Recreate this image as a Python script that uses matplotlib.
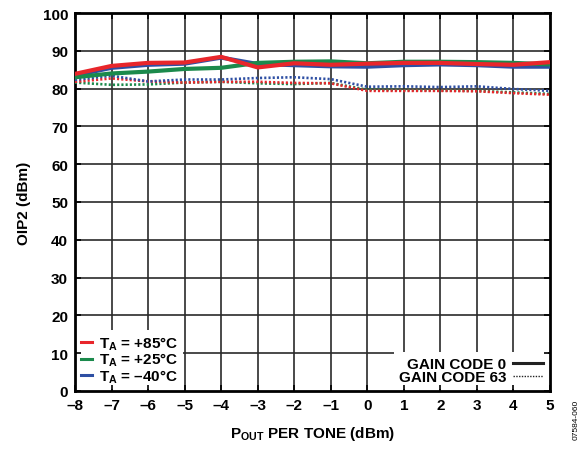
import matplotlib
matplotlib.use("Agg")
import matplotlib.pyplot as plt
from matplotlib.lines import Line2D

plt.rcParams['font.family'] = ['Liberation Sans', 'DejaVu Sans']
plt.rcParams['font.weight'] = 'bold'
plt.rcParams['axes.labelweight'] = 'bold'
plt.rcParams['mathtext.fontset'] = 'custom'
plt.rcParams['mathtext.rm'] = 'Liberation Sans:bold'
plt.rcParams['mathtext.it'] = 'Liberation Sans:bold'
plt.rcParams['mathtext.bf'] = 'Liberation Sans:bold'
plt.rcParams['mathtext.default'] = 'rm'

# output power per tone (dBm)
pout = [-8, -7, -6, -5, -4, -3, -2, -1, 0, 1, 2, 3, 4, 5]

# gain code 0 (solid)
oip2_85_gc0 = [83.9, 86.0, 86.8, 86.9, 88.4, 85.6, 86.7, 86.3, 86.6, 86.8, 86.8, 86.5, 86.3, 87.0]
oip2_25_gc0 = [83.0, 84.0, 84.5, 85.2, 85.5, 86.8, 87.1, 87.2, 86.7, 87.1, 87.1, 87.0, 86.8, 86.4]
oip2_m40_gc0 = [83.5, 85.5, 86.3, 86.6, 88.2, 86.5, 86.2, 85.9, 85.8, 86.2, 86.4, 86.2, 85.8, 85.8]

# gain code 63 (dotted)
oip2_85_gc63 = [81.8, 82.7, 81.9, 81.6, 81.8, 81.8, 81.5, 81.4, 79.4, 79.4, 79.4, 79.3, 78.8, 78.4]
oip2_25_gc63 = [81.6, 81.0, 81.1, 81.6, 81.8, 81.4, 81.2, 81.5, 79.7, 79.6, 79.5, 79.4, 79.0, 78.6]
oip2_m40_gc63 = [82.3, 83.4, 81.9, 82.4, 82.4, 82.8, 83.0, 82.5, 80.5, 80.6, 80.4, 80.6, 79.9, 79.4]

red = '#e8262b'
green = '#1b8a4c'
blue = '#2e4fa3'

fig = plt.figure(figsize=(5.85, 4.52), dpi=100)
ax = fig.add_axes([75/585, 1-392/452, 475/585, 378/452])

# grid drawn manually so the legends can sit on top of it
for x in range(-7, 5):
    ax.axvline(x, color='#2a2a2a', lw=1.2, zorder=0.5)
for y in range(10, 100, 10):
    ax.axhline(y, color='#2a2a2a', lw=1.2, zorder=0.5)

dots = (0, (0.8, 0.8))
ax.plot(pout, oip2_25_gc63, color=green, lw=1.9, ls=dots, zorder=3)
ax.plot(pout, oip2_85_gc63, color=red, lw=1.9, ls=dots, zorder=3)
ax.plot(pout, oip2_m40_gc63, color=blue, lw=1.9, ls=dots, zorder=3)
ax.plot(pout, oip2_m40_gc0, color=blue, lw=3, zorder=3)
ax.plot(pout, oip2_25_gc0, color=green, lw=3, zorder=3)
ax.plot(pout, oip2_85_gc0, color=red, lw=3, zorder=3)

ax.set_xlim(-8, 5)
ax.set_ylim(0, 100)
ax.set_xticks(pout)
ax.set_xticklabels([str(v).replace('-', '\u2013') for v in pout])
ax.set_yticks(range(0, 101, 10))
ax.tick_params(direction='in', length=4, width=1.2, labelsize=11, pad=5,
               top=True, right=True)
for s in ax.spines.values():
    s.set_linewidth(2)

ax.set_xlabel(r'$\mathregular{P_{OUT}}$ PER TONE (dBm)', fontsize=11, labelpad=9)
ax.set_ylabel('OIP2 (dBm)', fontsize=11, labelpad=8)

temp_handles = [Line2D([], [], color=c, lw=2.2) for c in (red, green, blue)]
temp_labels = [r'$\mathregular{T_A}$ = +85°C', r'$\mathregular{T_A}$ = +25°C',
               r'$\mathregular{T_A}$ = ' + '\u201340°C']
leg1 = ax.legend(temp_handles, temp_labels, loc='lower left', fontsize=11,
                 frameon=True, facecolor='white', edgecolor='none', framealpha=1,
                 fancybox=False, handlelength=0.7, handletextpad=0.5,
                 labelspacing=-0.05, borderpad=0.25, borderaxespad=0.15)
leg1.set_zorder(1)
ax.add_artist(leg1)

gc_handles = [Line2D([], [], color='#222222', lw=2.2),
              Line2D([], [], color='#222222', lw=1.0, ls=(0, (1, 1)))]
leg2 = ax.legend(gc_handles, ['GAIN CODE 0', 'GAIN CODE 63'], loc='lower right',
                 fontsize=11, frameon=True, facecolor='white', edgecolor='none',
                 framealpha=1, fancybox=False, markerfirst=False, handlelength=2.0,
                 handletextpad=0.4, labelspacing=-0.05, borderpad=0.3,
                 borderaxespad=0.15)
leg2.set_zorder(1)

fig.text(0.985, 0.07, '07584-060', rotation=90, fontsize=6, fontweight='normal',
         ha='center', va='center')

fig.savefig('out.png', dpi=100)
